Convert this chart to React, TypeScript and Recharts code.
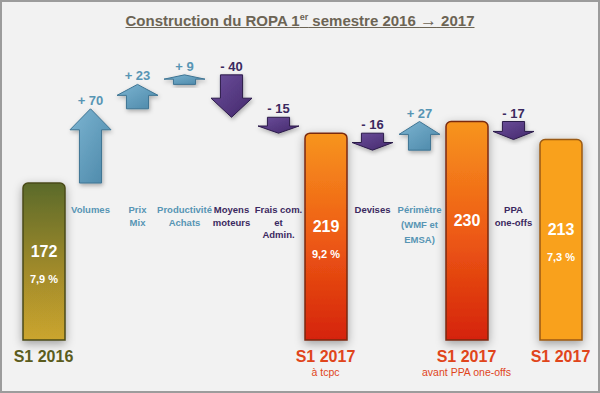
import React from 'react';
import { ComposedChart, Bar, XAxis, YAxis, Cell, LabelList } from 'recharts';

// Étapes du pont ROPA S1 2016 -> S1 2017
const categories = [
  'S1 2016', 'Volumes', 'Prix Mix', 'Productivité Achats', 'Moyens moteurs', 'Frais com. et Admin.',
  'S1 2017 à tcpc', 'Devises', 'Périmètre (WMF et EMSA)', 'S1 2017 avant PPA one-offs', 'PPA one-offs', 'S1 2017'
];
const tickLines = [
  ['S1 2016'], ['Volumes'], ['Prix', 'Mix'], ['Productivité', 'Achats'], ['Moyens', 'moteurs'],
  ['Frais com.', 'et', 'Admin.'], ['S1 2017', 'à tcpc'], ['Devises'], ['Périmètre', '(WMF et', 'EMSA)'],
  ['S1 2017', 'avant PPA one-offs'], ['PPA', 'one-offs'], ['S1 2017']
];
const totals = [172, null, null, null, null, null, 219, null, null, 230, null, 213];
const deltas = [null, 70, 23, 9, -40, -15, null, -16, 27, null, -17, null];
const marginRates = ['7,9 %', '', '', '', '', '', '9,2 %', '', '', '', '', '7,3 %'];

let level = 0;
const data = categories.map((name, i) => {
  const t = totals[i];
  const d = deltas[i];
  if (t != null) {
    level = t;
    return { name, total: t, range: null, delta: null };
  }
  const start = level;
  level = level + (d as number);
  return { name, total: null, range: [Math.min(start, level), Math.max(start, level)], delta: d };
});

const lastTotal = totals.length - 1;
const FONT = "Arial, 'Liberation Sans', sans-serif";
const BLUE = '#5795b4';
const PURPLE = '#3b2960';
const TICK_SHIFT = -29;

const Arrow = (props: any) => {
  let { x, y, width, height, payload } = props;
  if (!payload || payload.delta == null) return null;
  if (height < 0) { y += height; height = -height; }
  const up = payload.delta > 0;
  const cx = x + width / 2;
  const sw = width * 0.27;
  const head = Math.min(21, height * 0.45);
  const pts = up
    ? [[cx, y], [x + width, y + head], [cx + sw, y + head], [cx + sw, y + height], [cx - sw, y + height], [cx - sw, y + head], [x, y + head]]
    : [[cx - sw, y], [cx + sw, y], [cx + sw, y + height - head], [x + width, y + height - head], [cx, y + height], [x, y + height - head], [cx - sw, y + height - head]];
  return (
    <polygon
      points={pts.map(p => p.join(',')).join(' ')}
      fill={up ? 'url(#gUp)' : 'url(#gDown)'}
      stroke={up ? '#3e7493' : '#2c1a4a'}
      strokeWidth={1}
      filter="url(#arrowShadow)"
    />
  );
};

const DeltaLabel = (props: any) => {
  let { x, y, width, height, value } = props;
  if (value == null) return null;
  if (height < 0) { y += height; height = -height; }
  return (
    <text x={x + width / 2} y={y - 4} textAnchor="middle" fontFamily={FONT} fontWeight="bold" fontSize={13}
      fill={value > 0 ? BLUE : PURPLE}>
      {value > 0 ? `+ ${value}` : `- ${-value}`}
    </text>
  );
};

const TotalLabel = (props: any) => {
  const { x, y, width, height, value } = props;
  if (value == null) return null;
  const rate = marginRates[totals.indexOf(value)];
  const mid = y + height / 2;
  return (
    <g fontFamily={FONT} fontWeight="bold" fill="#fff" textAnchor="middle">
      <text x={x + width / 2} y={mid - 5} fontSize={16}>{value}</text>
      {rate ? <text x={x + width / 2} y={mid + 21} fontSize={11}>{rate}</text> : null}
    </g>
  );
};

const CategoryTick = (props: any) => {
  const { x, payload } = props;
  const y = props.y + TICK_SHIFT;
  const i = categories.indexOf(payload.value);
  const lines = tickLines[i] || [];
  if (totals[i] != null) {
    const col = i === 0 ? '#5b5c1d' : '#e0451b';
    return (
      <g fontFamily={FONT} textAnchor="middle" fill={col}>
        <text x={x} y={y + 21} fontSize={16} fontWeight="bold">{lines[0]}</text>
        {lines[1] ? <text x={x} y={y + 35} fontSize={10.5}>{lines[1]}</text> : null}
      </g>
    );
  }
  const col = (deltas[i] as number) > 0 ? BLUE : PURPLE;
  const step = lines.length === 3 && (deltas[i] as number) > 0 ? 15 : 12.5;
  return (
    <g fontFamily={FONT} textAnchor="middle" fill={col} fontWeight="bold" fontSize={9.5}>
      {lines.map((l, k) => (
        <text key={k} x={x} y={y - 128 + k * step}>{l}</text>
      ))}
    </g>
  );
};

export default function App() {
  return (
    <div style={{ position: 'absolute', left: 0, top: 0, width: 600, height: 393, boxSizing: 'border-box',
      border: '2px solid #9c9c9c', background: '#f2f2f2' }}>
      <div style={{ position: 'absolute', left: 0, right: 0, top: 9, textAlign: 'center', fontFamily: FONT,
        fontWeight: 'bold', fontSize: 15, color: '#6c6454', zIndex: 2 }}>
        <span style={{ textDecoration: 'underline' }}>
          Construction du ROPA 1<sup style={{ fontSize: 9 }}>er</sup> semestre 2016 <span style={{ fontSize: 17 }}>→</span> 2017
        </span>
      </div>
      <ComposedChart width={596} height={389} data={data} margin={{ top: 58, right: 14, left: 18, bottom: 0 }}>
        <defs>
          <linearGradient id="gOlive" x1="0" y1="0" x2="0" y2="1">
            <stop offset="0%" stopColor="#5b6a2b" />
            <stop offset="55%" stopColor="#a08a2c" />
            <stop offset="100%" stopColor="#cba52d" />
          </linearGradient>
          <linearGradient id="gOrange" x1="0" y1="0" x2="0" y2="1">
            <stop offset="0%" stopColor="#f7951e" />
            <stop offset="50%" stopColor="#ee5c15" />
            <stop offset="100%" stopColor="#d5230a" />
          </linearGradient>
          <linearGradient id="gUp" x1="0" y1="0" x2="1" y2="1">
            <stop offset="0%" stopColor="#7db5d2" />
            <stop offset="100%" stopColor="#4b87a8" />
          </linearGradient>
          <linearGradient id="gDown" x1="0" y1="0" x2="1" y2="1">
            <stop offset="0%" stopColor="#6c4f9c" />
            <stop offset="100%" stopColor="#43286b" />
          </linearGradient>
          <filter id="barShadow" x="-50%" y="-20%" width="200%" height="140%">
            <feDropShadow dx="0" dy="3" stdDeviation="5" floodColor="#000" floodOpacity="0.35" />
          </filter>
          <filter id="arrowShadow" x="-30%" y="-30%" width="160%" height="160%">
            <feDropShadow dx="1" dy="2" stdDeviation="2" floodColor="#000" floodOpacity="0.3" />
          </filter>
        </defs>
        <XAxis xAxisId="t" dataKey="name" axisLine={false} tickLine={false} tickSize={0} tickMargin={0}
          height={51} interval={0} tick={<CategoryTick />} />
        <XAxis xAxisId="d" dataKey="name" hide />
        <YAxis hide domain={[24, 288]} />
        <Bar xAxisId="t" dataKey="total" barSize={42} radius={[5, 5, 0, 0]} isAnimationActive={false}
          filter="url(#barShadow)" strokeWidth={1.5}>
          {data.map((_, i) => (
            <Cell key={i}
              fill={i === 0 ? 'url(#gOlive)' : i === lastTotal ? '#f9a11c' : 'url(#gOrange)'}
              stroke={i === 0 ? '#4a4a18' : i === lastTotal ? '#9a5a12' : '#7a2a10'} />
          ))}
          <LabelList dataKey="total" content={<TotalLabel />} />
        </Bar>
        <Bar xAxisId="d" dataKey="range" barSize={41} shape={<Arrow />} isAnimationActive={false}>
          <LabelList dataKey="delta" content={<DeltaLabel />} />
        </Bar>
      </ComposedChart>
    </div>
  );
}
